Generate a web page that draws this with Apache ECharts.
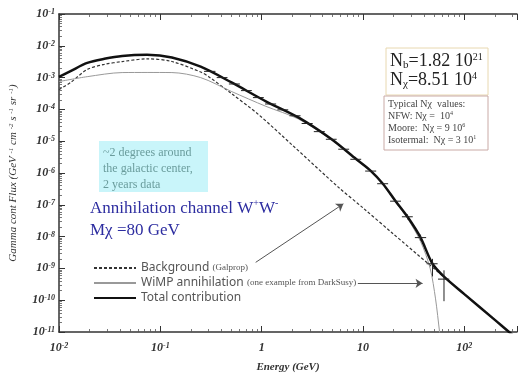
<!DOCTYPE html>
<html>
<head>
<meta charset="utf-8">
<script src="https://cdn.jsdelivr.net/npm/echarts@6/dist/echarts.min.js"></script>
<style>
  html, body { margin: 0; padding: 0; background: #fff; }
  #chart { width: 520px; height: 378px; }
</style>
</head>
<body>
<div id="chart"></div>
<script>
// values (energy in GeV, flux in GeV^-1 cm^-2 s^-1 sr^-1)
const totalE = [0.01, 0.013, 0.019, 0.028, 0.042, 0.074, 0.13, 0.25, 0.51, 1.1, 2.3, 4.9, 8.6, 12, 15.7, 21, 27.5, 37, 48.5, 63, 100, 200, 300, 340]
const totalF = [1.05e-3, 1.6e-3, 2.9e-3, 3.9e-3, 4.8e-3, 5.2e-3, 4.3e-3, 2.2e-3, 6.9e-4, 1.8e-4, 5.6e-5, 1.15e-5, 2.7e-6, 1.15e-6, 4.6e-7, 1.3e-7, 4.2e-8, 9.3e-9, 1.4e-9, 5.5e-10, 1.55e-10, 2.4e-11, 8e-12, 6e-12]

const bgE = [0.01, 0.013, 0.019, 0.028, 0.042, 0.074, 0.13, 0.25, 0.3, 0.5, 0.93, 2, 5.7, 10, 20, 46, 100, 200, 300, 340]
const bgF = [4.2e-4, 7e-4, 1.8e-3, 2.6e-3, 3.2e-3, 3.9e-3, 3.2e-3, 1.5e-3, 1.07e-3, 3.2e-4, 6.9e-5, 7.6e-6, 3.6e-7, 8e-8, 1.2e-8, 1.25e-9, 1.55e-10, 2.4e-11, 8e-12, 6e-12]

const wimpE = [0.01, 0.019, 0.042, 0.074, 0.13, 0.25, 0.5, 1.1, 2.3, 4.9, 8.6, 12, 15.7, 21, 27.5, 37, 46, 52, 57, 60]
const wimpF = [7.5e-4, 1.07e-3, 1.44e-3, 1.45e-3, 1.44e-3, 1.0e-3, 3.7e-4, 1.25e-4, 5e-5, 1.1e-5, 2.6e-6, 1.1e-6, 4.4e-7, 1.2e-7, 3.7e-8, 7e-9, 1e-9, 1.1e-10, 1e-11, 3e-12]

// data points with error bars
const errE  = [0.31, 0.41, 0.54, 0.71, 0.93, 1.23, 1.62, 2.14, 2.82, 3.72, 4.9, 6.46, 8.5, 12, 15.7, 21, 27.5, 37, 48.5, 63]
const errF  = [1.57e-3, 1.0e-3, 6.3e-4, 3.9e-4, 2.35e-4, 1.48e-4, 9.7e-5, 6.3e-5, 3.6e-5, 2.0e-5, 1.15e-5, 5.6e-6, 2.7e-6, 1.15e-6, 4.6e-7, 1.3e-7, 4.2e-8, 9.3e-9, 1.4e-9, 4.6e-10]
const errElo = [0.27, 0.36, 0.475, 0.625, 0.82, 1.08, 1.43, 1.88, 2.48, 3.27, 4.3, 5.7, 7.5, 10.5, 13.8, 18.5, 24.2, 32.5, 42.5, 55]
const errEhi = [0.35, 0.46, 0.61, 0.8, 1.05, 1.39, 1.83, 2.42, 3.19, 4.2, 5.5, 7.3, 9.6, 13.5, 17.7, 23.7, 31, 42, 54.5, 71]
const errFlo = [null, null, null, null, null, null, null, null, null, null, null, null, null, null, null, null, 3.5e-8, 7.5e-9, 5.6e-10, 9.3e-11]
const errFhi = [null, null, null, null, null, null, null, null, null, null, null, null, null, null, null, null, 5e-8, 1.15e-8, 2.0e-9, 8.7e-10]

// tick labels
const xTickValues = [0.01, 0.1, 1, 10, 100]
const xTickLabels = ['{b|10}{s|-2}', '{b|10}{s|-1}', '{b|1}', '{b|10}', '{b|10}{s|2}']
const yTickValues = [1e-1, 1e-2, 1e-3, 1e-4, 1e-5, 1e-6, 1e-7, 1e-8, 1e-9, 1e-10, 1e-11]
const yTickLabels = ['-1', '-2', '-3', '-4', '-5', '-6', '-7', '-8', '-9', '-10', '-11']

// annotation arrows [from, to] in data coords
const arrowBg = [[0.873, 1.55e-9], [6.4, 1.07e-7]]
const arrowWimp = [[8.9, 3.4e-10], [38.7, 3.4e-10]]

const pairs = (xs, ys) => xs.map((x, i) => [x, ys[i]])

const serif = 'Liberation Serif'
const labelRich = {
  b: { fontFamily: serif, fontStyle: 'italic', fontWeight: 'bold', fontSize: 12, color: '#333' },
  s: { fontFamily: serif, fontStyle: 'italic', fontWeight: 'bold', fontSize: 8, color: '#333', verticalAlign: 'top' }
}

const findIdx = (arr, v) => arr.findIndex(t => Math.abs(Math.log10(t) - Math.log10(v)) < 1e-3)

const axisCommon = {
  type: 'log',
  logBase: 10,
  axisLine: { show: true, lineStyle: { color: '#333', width: 1.5 } },
  axisTick: { show: true, inside: true, length: 6, lineStyle: { color: '#333', width: 1 } },
  minorTick: { show: true, splitNumber: 9, length: 3, lineStyle: { color: '#555', width: 0.8 } },
  splitLine: { show: false }
}

const chart = echarts.init(document.getElementById('chart'), null, { width: 520, height: 378 })

chart.setOption({
  animation: false,
  backgroundColor: '#fff',
  grid: { left: 59, right: 0, top: 14, bottom: 44 },
  xAxis: [
    Object.assign({}, axisCommon, {
      min: 0.01, max: 331,
      name: 'Energy (GeV)',
      nameLocation: 'middle',
      nameGap: 30,
      nameTextStyle: { fontFamily: serif, fontStyle: 'italic', fontWeight: 'bold', fontSize: 11, color: '#333' },
      axisLabel: {
        margin: 10,
        interval: 0,
        hideOverlap: false,
        formatter: v => { const i = findIdx(xTickValues, v); return i < 0 ? '' : xTickLabels[i] },
        rich: labelRich
      }
    }),
    Object.assign({}, axisCommon, {
      min: 0.01, max: 331, position: 'top',
      axisLabel: { show: false }
    })
  ],
  yAxis: [
    Object.assign({}, axisCommon, {
      min: 1e-11, max: 1e-1,
      interval: 1,
      name: 'Gamma cont Flux (GeV {s|-1} cm {s|-2} s {s|-1} sr {s|-1})',
      nameLocation: 'middle',
      nameGap: 40,
      nameRotate: 90,
      nameTextStyle: {
        fontFamily: serif, fontStyle: 'italic', fontSize: 11, color: '#333',
        rich: {
          s: { fontFamily: serif, fontStyle: 'italic', fontSize: 7, color: '#333', verticalAlign: 'top' }
        }
      },
      axisLabel: {
        margin: 4,
        interval: 0,
        hideOverlap: false,
        formatter: v => { const i = findIdx(yTickValues, v); return i < 0 ? '' : '{b|10}{s|' + yTickLabels[i] + '}' },
        rich: labelRich
      }
    })
  ],
  legend: {
    left: 88, top: 257,
    orient: 'vertical',
    itemWidth: 42, itemHeight: 10, itemGap: 3,
    itemStyle: { opacity: 0 },
    data: ['Background', 'WIMP', 'Total'],
    formatter: name => ({
      Background: '{a|Background} {p|(Galprop)}',
      WIMP: '{a|WiMP annihilation} {p|(one example from DarkSusy)}',
      Total: '{a|Total contribution}'
    })[name],
    textStyle: {
      rich: {
        a: { fontFamily: 'Noto Sans', fontSize: 12, color: '#555' },
        p: { fontFamily: serif, fontSize: 9, color: '#555' }
      }
    }
  },
  series: [
    {
      name: 'Background', type: 'line', data: pairs(bgE, bgF),
      showSymbol: false, symbol: 'none', smooth: 0.3, z: 2,
      itemStyle: { color: '#333' },
      lineStyle: { color: '#333', width: 1.2, type: [3, 2] },
      markLine: {
        silent: true, symbol: ['none', 'arrow'], symbolSize: 7,
        lineStyle: { color: '#555', width: 1, type: 'solid' },
        label: { show: false },
        data: [
          [{ coord: arrowBg[0] }, { coord: arrowBg[1] }],
          [{ coord: arrowWimp[0] }, { coord: arrowWimp[1] }]
        ]
      }
    },
    {
      name: 'WIMP', type: 'line', data: pairs(wimpE, wimpF),
      showSymbol: false, symbol: 'none', smooth: 0.3, z: 2,
      itemStyle: { color: '#999' },
      lineStyle: { color: '#999', width: 1 }
    },
    {
      name: 'Total', type: 'line', data: pairs(totalE, totalF),
      showSymbol: false, symbol: 'none', smooth: 0.3, z: 3,
      itemStyle: { color: '#111' },
      lineStyle: { color: '#111', width: 2.5 }
    },
    {
      name: 'data', type: 'custom', z: 4,
      data: errE.map((e, i) => [e, errF[i], errElo[i], errEhi[i]]),
      encode: { x: 0, y: 1 },
      renderItem: (params, api) => {
        const e = api.value(0), f = api.value(1)
        const a = api.coord([api.value(2), f])
        const b = api.coord([api.value(3), f])
        const kids = [{ type: 'line', shape: { x1: a[0], y1: a[1], x2: b[0], y2: b[1] }, style: { stroke: '#222', lineWidth: 1 } }]
        const flo = errFlo[params.dataIndex], fhi = errFhi[params.dataIndex]
        if (flo != null) {
          const c = api.coord([e, flo]), d = api.coord([e, fhi])
          kids.push({ type: 'line', shape: { x1: c[0], y1: c[1], x2: d[0], y2: d[1] }, style: { stroke: '#222', lineWidth: 1 } })
        }
        return { type: 'group', children: kids }
      }
    }
  ],
  graphic: [
    { type: 'rect', shape: { x: 99, y: 141, width: 109, height: 51 }, style: { fill: '#c9f5fa' }, z: 10 },
    {
      type: 'text', x: 103, y: 145, z: 11,
      style: { text: '~2 degrees around\nthe galactic center,\n2 years data', fontFamily: serif, fontSize: 12, lineHeight: 16, fill: '#6a9c9c' }
    },
    {
      type: 'text', x: 90, y: 198, z: 11,
      style: {
        text: '{m|Annihilation channel W}{s|+}{m|W}{s|-}\n{m|Mχ =80 GeV}',
        rich: {
          m: { fontFamily: serif, fontSize: 17, fill: '#2d2da0', lineHeight: 22 },
          s: { fontFamily: serif, fontSize: 10, fill: '#2d2da0', verticalAlign: 'top', lineHeight: 22 }
        }
      }
    },
    { type: 'rect', shape: { x: 386, y: 48, width: 102, height: 47 }, style: { fill: '#fff', stroke: '#e8d8b0', lineWidth: 1 }, z: 10 },
    {
      type: 'text', x: 390, y: 52, z: 11,
      style: {
        text: '{n|N}{sub|b}{n|=1.82 10}{sup|21}\n{n|N}{sub|χ}{n|=8.51 10}{sup|4}',
        rich: {
          n: { fontFamily: serif, fontSize: 18, fill: '#222', lineHeight: 19 },
          sub: { fontFamily: serif, fontSize: 11, fill: '#222', verticalAlign: 'bottom', lineHeight: 19 },
          sup: { fontFamily: serif, fontSize: 10, fill: '#222', verticalAlign: 'top', lineHeight: 19 }
        }
      }
    },
    { type: 'rect', shape: { x: 384, y: 96, width: 104, height: 54 }, style: { fill: '#fff', stroke: '#c9aaa6', lineWidth: 1 }, z: 10 },
    {
      type: 'text', x: 388, y: 98, z: 11,
      style: {
        text: '{t|Typical Nχ  values:}\n{t|NFW: Nχ =  10}{s|4}\n{t|Moore:  Nχ = 9 10}{s|6}\n{t|Isotermal:  Nχ = 3 10}{s|1}',
        rich: {
          t: { fontFamily: serif, fontSize: 10, fill: '#444', lineHeight: 12 },
          s: { fontFamily: serif, fontSize: 6, fill: '#444', verticalAlign: 'top', lineHeight: 12 }
        }
      }
    }
  ]
})
</script>
</body>
</html>
